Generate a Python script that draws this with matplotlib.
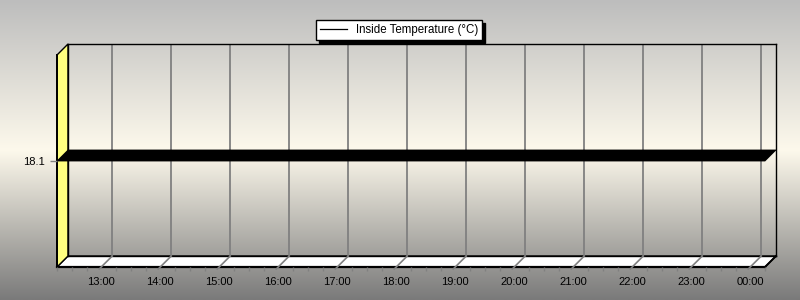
import numpy as np
import matplotlib
matplotlib.use("Agg")
import matplotlib.pyplot as plt
from matplotlib.patches import Polygon
from matplotlib.lines import Line2D

plt.rcParams['font.family'] = ['Liberation Sans', 'DejaVu Sans']

# ---- data ----
series_name = "Inside Temperature (°C)"
times_h = [12.25, 13.25, 14.25, 15.25, 16.25, 17.25, 18.25, 19.25, 20.25,
           21.25, 22.25, 23.25, 24.25]
temps = [18.1, 18.1, 18.1, 18.1, 18.1, 18.1, 18.1, 18.1, 18.1,
         18.1, 18.1, 18.1, 18.1]
hour_ticks = [13, 14, 15, 16, 17, 18, 19, 20, 21, 22, 23, 24]
hour_labels = ["13:00", "14:00", "15:00", "16:00", "17:00", "18:00", "19:00",
               "20:00", "21:00", "22:00", "23:00", "00:00"]
y_ticks = [18.1]
y_labels = ["18.1"]
x_range = (12.25, 24.25)
y_range = (18.0, 18.2)

# ---- layout (pixels) ----
W, H = 800, 300
L, R, T, B = 68, 776, 44, 256
D = 11
GRID = '#808080'

fig = plt.figure(figsize=(W / 100, H / 100), dpi=100)

# background gradient
bg = fig.add_axes([0, 0, 1, 1], zorder=0)
yy = np.linspace(0, 1, 300)
top = np.array([0xbd, 0xbd, 0xbd]) / 255
mid = np.array([0xfd, 0xf9, 0xec]) / 255
bot = np.array([0x7a, 0x7a, 0x7a]) / 255
cols = np.where(yy[:, None] < 0.5,
                top + (mid - top) * (yy[:, None] / 0.5),
                mid + (bot - mid) * ((yy[:, None] - 0.5) / 0.5))
bg.imshow(cols[:, None, :].repeat(2, axis=1), aspect='auto',
          extent=(0, W, H, 0), interpolation='bilinear')
bg.set_xlim(0, W)
bg.set_ylim(H, 0)
bg.axis('off')

# 3D frame decorations
floor = Polygon([(L, B), (R, B), (R - D, B + D), (L - D, B + D)], closed=True,
                fc='white', ec='black', lw=1.0, zorder=2)
bg.add_patch(floor)
wall = Polygon([(L - D, T + D), (L, T), (L, B), (L - D, B + D)], closed=True,
               fc='#ffff80', ec='black', lw=1.0, zorder=2)
bg.add_patch(wall)
bg.plot([L - D, R - D], [B + D, B + D], color='black', lw=1.6, zorder=3)
bg.plot([L - D, L - D], [T + D, B + D], color='black', lw=1.4, zorder=3)
bg.plot([R - D, R], [B + D, B], color='black', lw=1.4, zorder=3)

# main (back wall) axes
ax = fig.add_axes([L / W, 1 - B / H, (R - L) / W, (B - T) / H], zorder=2)
ax.set_facecolor('none')
ax.set_xlim(*x_range)
ax.set_ylim(*y_range)
ax.set_xticks(hour_ticks)
ax.set_yticks([])
ax.tick_params(axis='x', length=0, labelbottom=False)
ax.grid(axis='x', color=GRID, lw=1.3)
for s in ax.spines.values():
    s.set_color('black')
    s.set_linewidth(1.0)


def shifted(xs, ys, d=D):
    pts = ax.transData.transform(np.column_stack([xs, ys]))
    pts[:, 0] -= d
    pts[:, 1] -= d
    return ax.transData.inverted().transform(pts)


# floor diagonals
for h in hour_ticks:
    f = shifted([h], [y_range[0]], D + 2)[0]
    ax.plot([h, f[0]], [y_range[0], f[1]], color=GRID, lw=1.2,
            clip_on=False, zorder=3)

# ribbon for the series
back = np.column_stack([times_h, temps])
front = shifted(times_h, temps)
ax.add_patch(Polygon(np.vstack([back, front[::-1]]), closed=True,
                     fc='black', ec='black', lw=0.6, clip_on=False, zorder=4))

# front axes for ticks and labels
fa = fig.add_axes([(L - D) / W, 1 - (B + D) / H, (R - L) / W, (B - T) / H],
                  zorder=3)
fa.set_facecolor('none')
fa.set_xlim(*x_range)
fa.set_ylim(*y_range)
for s in fa.spines.values():
    s.set_visible(False)
fa.set_xticks(hour_ticks, hour_labels)
minor = [m / 4 for m in range(49, 98) if m % 4 != 0]
fa.set_xticks(minor, minor=True)
fa.tick_params(axis='x', which='major', length=0, pad=7, labelsize=8)
fa.tick_params(axis='x', which='minor', length=3, width=1, color=GRID)
fa.set_yticks(y_ticks, y_labels)
fa.tick_params(axis='y', length=5, width=1, color=GRID, pad=4, labelsize=8)

# legend
handle = Line2D([], [], color='black', lw=0.9, label=series_name)
fig.legend(handles=[handle], loc='upper center',
           bbox_to_anchor=(399 / W, 1 - 14 / H), frameon=True, fancybox=False,
           edgecolor='black', framealpha=1, borderpad=0.35, handlelength=2.3,
           handletextpad=0.8, prop={'size': 8.3},
           shadow={'ox': 2.2, 'oy': -2.2, 'color': 'black', 'alpha': 1})

fig.savefig('out.png', dpi=100)
